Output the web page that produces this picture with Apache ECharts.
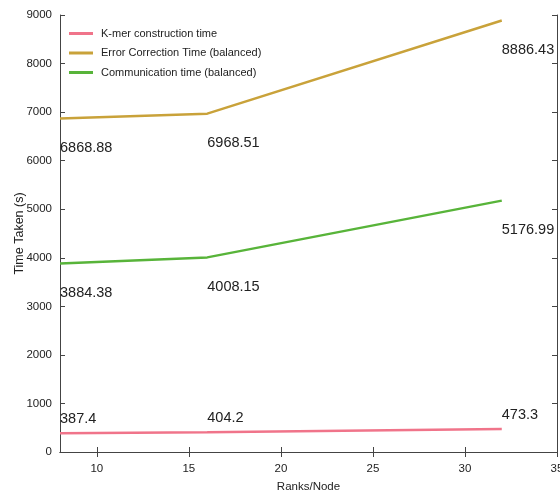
<!DOCTYPE html>
<html><head><meta charset="utf-8">
<script src="https://cdn.jsdelivr.net/npm/echarts@6/dist/echarts.min.js"></script>
<style>html,body{margin:0;padding:0;background:#fff}#c{width:560px;height:491px}</style>
</head><body><div id="c"></div>
<script>
const ranksPerNode = [8, 16, 32];
const kmerTime = [387.4, 404.2, 473.3];
const errorCorrectionTime = [6868.88, 6968.51, 8886.43];
const communicationTime = [3884.38, 4008.15, 5176.99];
const xTicks = [10, 15, 20, 25, 30, 35];
const seriesNames = ['K-mer construction time', 'Error Correction Time (balanced)', 'Communication time (balanced)'];
const colors = ['#f0748a', '#c9a23a', '#58b43a'];
const FONT = '"Liberation Sans", Arial, sans-serif';

const chart = echarts.init(document.getElementById('c'));
function pairs(v){ return ranksPerNode.map((x,i)=>[x, v[i]]); }
function mkSeries(name, vals, color, pos, dist){
  return {
    name, type:'line', data: pairs(vals), symbol:'circle', symbolSize:0.001,
    lineStyle:{color, width:2.5}, itemStyle:{color},
    label:{show:true, position:pos, distance:dist, align:'left', color:'#222',
      fontFamily:FONT, fontSize:14.5, formatter:p=>String(p.value[1])},
    emphasis:{disabled:true}, animation:false
  };
}
const lineCol = '#444';
const tickX = {show:true, inside:true, length:5, customValues:xTicks, lineStyle:{color:lineCol}};
const tickY = {show:true, inside:true, length:5, lineStyle:{color:lineCol}};
const axLine = {show:true, lineStyle:{color:lineCol, width:1}};
chart.setOption({
  animation:false,
  grid:{left:60, right:3, top:15, bottom:39, show:false, outerBoundsMode:'none', containLabel:false},
  legend:{show:true, orient:'vertical', left:64, top:23, itemGap:8.5, itemWidth:24, itemHeight:3,
    icon:'rect', data:seriesNames,
    textStyle:{fontFamily:FONT, fontSize:11, color:'#222', padding:[0,0,0,3]}},
  xAxis:[
    {type:'value', min:8, max:35, position:'bottom',
      name:'Ranks/Node', nameLocation:'middle', nameGap:29, nameMoveOverlap:false,
      nameTextStyle:{fontFamily:FONT, fontSize:11.5, color:'#222'},
      axisLabel:{customValues:xTicks, fontFamily:FONT, fontSize:11.5, color:'#222', margin:11},
      axisLine:axLine, axisTick:tickX, splitLine:{show:false}},
    {type:'value', min:8, max:35, position:'top',
      axisLabel:{show:false}, axisLine:axLine, axisTick:tickX, splitLine:{show:false}}
  ],
  yAxis:[
    {type:'value', min:0, max:9000, interval:1000, position:'left',
      name:'Time Taken (s)', nameLocation:'middle', nameGap:34, nameMoveOverlap:false,
      nameTextStyle:{fontFamily:FONT, fontSize:12.5, color:'#222'},
      axisLabel:{fontFamily:FONT, fontSize:11.5, color:'#222', margin:8, formatter:v=>String(v)},
      axisLine:axLine, axisTick:tickY, splitLine:{show:false}},
    {type:'value', min:0, max:9000, interval:1000, position:'right',
      axisLabel:{show:false}, axisLine:axLine, axisTick:tickY, splitLine:{show:false}}
  ],
  series:[
    mkSeries(seriesNames[0], kmerTime, colors[0], 'top', 7),
    mkSeries(seriesNames[1], errorCorrectionTime, colors[1], 'bottom', 22),
    mkSeries(seriesNames[2], communicationTime, colors[2], 'bottom', 22)
  ]
});
</script></body></html>
